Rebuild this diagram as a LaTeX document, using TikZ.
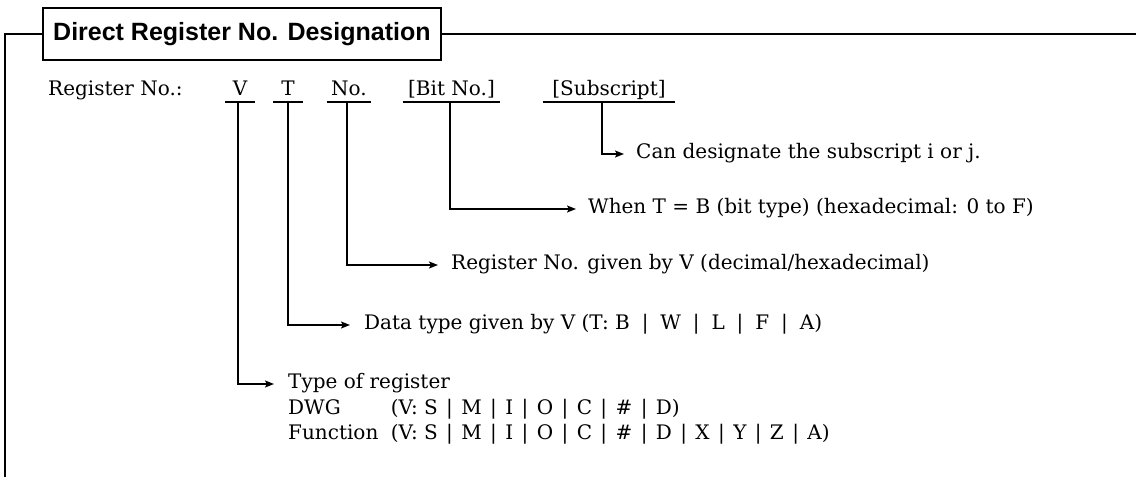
\documentclass[tikz,border=0pt]{standalone}
\usepackage{fontspec}
\setmainfont{DejaVu Serif}
\newfontfamily\titlefont{Liberation Sans}
\usetikzlibrary{arrows.meta,calc}
\newcommand{\bsep}{\hspace{0.42em}|\hspace{0.42em}}
\begin{document}
\begin{tikzpicture}[x=1pt,y=-1pt,
  body/.style={font=\fontsize{20}{24}\selectfont},
  field/.style={body, inner xsep=0pt, inner ysep=1.5pt, text height=14.5pt, text depth=5pt, anchor=south},
  descr/.style={body, anchor=west, inner xsep=13pt, inner ysep=0pt, text height=14.5pt, text depth=4.8pt},
  plain/.style={body, anchor=base west, inner sep=0pt},
  frame/.style={line width=1.8pt},
  uline/.style={line width=1.8pt},
  conn/.style={line width=1.7pt, -{Stealth[length=9pt,width=7pt,inset=2pt]}},
]
\useasboundingbox (0,0) rectangle (1136,477);
% title box
\node[draw, frame, minimum width=398pt, minimum height=52pt, inner sep=0pt, anchor=west,
      font=\titlefont\fontsize{25}{30}\selectfont\bfseries] (title) at (42,34) {Direct Register No. Designation};
\coordinate (fl) at (5,34);
\coordinate (fb) at (5,477);
\coordinate (fr) at (1136,34);
\draw[frame] (title.west) -- (fl) -- (fb);
\draw[frame] (title.east) -- (fr);
% register fields
\node[field, anchor=south west] (reg) at (48,102) {Register No.:};
\node[field, minimum width=30pt] (V) at (240,102) {V};
\node[field, minimum width=30pt] (T) at (288,102) {T};
\node[field, minimum width=44pt] (No) at (349,102) {No.};
\node[field, minimum width=97pt] (Bit) at (451.5,102) {[Bit No.]};
\node[field, minimum width=132pt] (Sub) at (609,102) {[Subscript]};
\foreach \n in {V,T,No,Bit,Sub} \draw[uline] (\n.south west) -- (\n.south east);
% descriptions
\node[descr, inner xsep=12pt] (dsub) at (624,154) {Can designate the subscript i or j.};
\node[descr, inner xsep=12pt] (dbit) at (576,209) {When T = B (bit type) (hexadecimal: 0 to F)};
\node[descr] (dno) at (438,265) {Register No. given by V (decimal/hexadecimal)};
\node[descr, inner xsep=14pt] (dt) at (350,325) {Data type given by V (T: B \;|\; W \;|\; L \;|\; F \;|\; A)};
\node[descr, inner xsep=14pt] (dv) at (274,384) {Type of register};
\node[plain] (dwg) at (288,414) {DWG};
\node[plain] (fn) at (288,439) {Function};
\node[plain, anchor=base west] (fnv) at ([xshift=12pt]fn.base east) {(V: S\bsep M\bsep I\bsep O\bsep C\bsep \#\bsep D\bsep X\bsep Y\bsep Z\bsep A)};
\node[plain] (dwgv) at (fnv.west |- dwg.base) {(V: S\bsep M\bsep I\bsep O\bsep C\bsep \#\bsep D)};
% connectors
\draw[conn] ([xshift=-7pt]Sub.south) |- (dsub.west);
\draw[conn] ([xshift=-1.5pt]Bit.south) |- (dbit.west);
\draw[conn] ([xshift=-2pt]No.south) |- (dno.west);
\draw[conn] (T.south) |- (dt.west);
\draw[conn] ([xshift=-2pt]V.south) |- (dv.west);
\end{tikzpicture}
\end{document}
